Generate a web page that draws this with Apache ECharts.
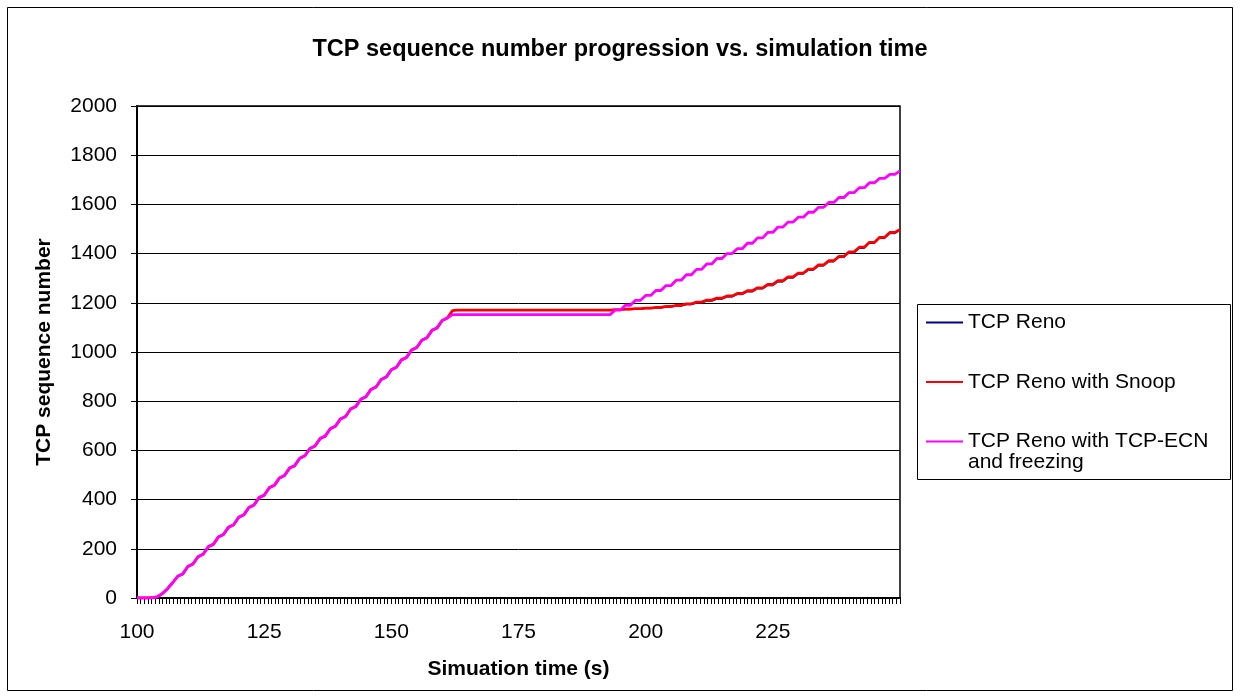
<!DOCTYPE html>
<html>
<head>
<meta charset="utf-8">
<script src="https://cdn.jsdelivr.net/npm/echarts@6/dist/echarts.min.js"></script>
<style>
html,body{margin:0;padding:0;background:#fff;}
#chart{width:1240px;height:698px;}
</style>
</head>
<body>
<div id="chart"></div>
<script>
// ---- data ----
const chartTitle = 'TCP sequence number progression vs. simulation time';
const xAxisTitle = 'Simuation time (s)';
const yAxisTitle = 'TCP sequence number';
const seriesNames = ['TCP Reno', 'TCP Reno with Snoop', 'TCP Reno with TCP-ECN and freezing'];
const legendLines = ['TCP Reno', 'TCP Reno with Snoop', 'TCP Reno with TCP-ECN', 'and freezing'];

// simulation time (s), one sample per second
const times = [
  100,101,102,103,104,105,106,107,108,109,110,111,112,113,114,115,116,117,118,119,
  120,121,122,123,124,125,126,127,128,129,130,131,132,133,134,135,136,137,138,139,
  140,141,142,143,144,145,146,147,148,149,150,151,152,153,154,155,156,157,158,159,
  160,161,162,163,164,165,166,167,168,169,170,171,172,173,174,175,176,177,178,179,
  180,181,182,183,184,185,186,187,188,189,190,191,192,193,194,195,196,197,198,199,
  200,201,202,203,204,205,206,207,208,209,210,211,212,213,214,215,216,217,218,219,
  220,221,222,223,224,225,226,227,228,229,230,231,232,233,234,235,236,237,238,239,
  240,241,242,243,244,245,246,247,248,249,250];

// common slow-start / linear phase, t = 100 .. 161 (all three runs overlap)
const riseValues = [
  0,0,0,1,5,18,38,62,88,98,128,138,168,178,208,218,248,258,288,298,
  328,338,368,378,408,418,448,458,488,498,528,538,568,578,608,618,648,658,688,698,
  728,738,768,778,808,818,848,858,888,898,928,938,968,978,1008,1018,1048,1058,1088,1098,
  1128,1138];

// t = 162 .. 250
const renoTail = [
  1168,1170,1170,1170,1170,1170,1170,1170,1170,1170,1170,1170,1170,1170,1170,1170,1170,1170,1170,1170,
  1170,1170,1170,1170,1170,1170,1170,1170,1170,1170,1170,1170,
  1171,1171,1172,1172,1174,1174,1176,1176,1178,1178,1182,1182,1186,1186,1192,1192,1198,1198,
  1206,1206,1214,1214,1223,1223,1233,1233,1244,1244,1256,1256,1269,1269,1284,1284,1300,1300,
  1316,1316,1332,1332,1349,1349,1366,1366,1384,1384,1402,1402,1421,1421,1441,1441,1461,1461,
  1481,1481,1495];

const snoopTail = [
  1168,1170,1170,1170,1170,1170,1170,1170,1170,1170,1170,1170,1170,1170,1170,1170,1170,1170,1170,1170,
  1170,1170,1170,1170,1170,1170,1170,1170,1170,1170,1170,1170,
  1172,1172,1174,1174,1176,1176,1178,1178,1181,1181,1185,1185,1190,1190,1196,1196,1203,1203,
  1211,1211,1219,1219,1228,1228,1238,1238,1249,1249,1261,1261,1275,1275,1290,1290,1305,1305,
  1321,1321,1337,1337,1354,1354,1371,1371,1389,1389,1407,1407,1426,1426,1446,1446,1466,1466,
  1486,1486,1498];

const ecnTail = [
  1152,1152,1152,1152,1152,1152,1152,1152,1152,1152,1152,1152,1152,1152,1152,1152,1152,1152,1152,1152,
  1152,1152,1152,1152,1152,1152,1152,1152,1152,1152,1152,1152,
  1170,1170,1190,1190,1210,1210,1230,1230,1250,1250,1270,1270,1292,1292,1314,1314,1336,1336,
  1358,1358,1380,1380,1400,1400,1420,1420,1442,1442,1464,1464,1486,1486,1508,1508,1528,1528,
  1548,1548,1568,1568,1588,1588,1608,1608,1628,1628,1648,1648,1668,1668,1688,1688,1706,1706,
  1722,1722,1736];

const renoValues = riseValues.concat(renoTail);
const snoopValues = riseValues.concat(snoopTail);
const ecnValues = riseValues.concat(ecnTail);

const seriesColors = ['#000080', '#FF0000', '#FF00FF'];
const seriesWidths = [1, 2.8, 2.8];

// ---- chart ----
const FONT = "'Liberation Sans', Arial, sans-serif";
const pairs = vals => times.map((t, i) => [t, vals[i]]);
const allValues = [renoValues, snoopValues, ecnValues];

const chart = echarts.init(document.getElementById('chart'), null, {renderer: 'canvas'});
chart.setOption({
  animation: false,
  backgroundColor: '#fff',
  title: {
    text: chartTitle,
    left: 'center',
    top: 33,
    textStyle: {fontFamily: FONT, fontSize: 23.5, fontWeight: 'bold', color: '#000', lineHeight: 24}
  },
  grid: {
    left: 137, right: 340, top: 106, bottom: 100,
    show: true, borderColor: '#000', borderWidth: 1.5, backgroundColor: '#fff'
  },
  xAxis: {
    type: 'value',
    min: 100, max: 250, interval: 25,
    name: xAxisTitle,
    nameLocation: 'middle',
    nameGap: 61,
    nameTextStyle: {fontFamily: FONT, fontSize: 21, fontWeight: 'bold', color: '#000', lineHeight: 21},
    axisLine: {show: true, onZero: false, lineStyle: {color: '#000', width: 2}},
    axisTick: {show: true, length: 6, lineStyle: {color: '#000', width: 1}},
    minorTick: {show: true, splitNumber: 35, length: 6, lineStyle: {color: '#000', width: 1}},
    axisLabel: {fontFamily: FONT, fontSize: 21, color: '#000', margin: 24, showMaxLabel: false, lineHeight: 21,
      formatter: v => String(v)},
    splitLine: {show: false}
  },
  yAxis: {
    type: 'value',
    min: 0, max: 2000, interval: 200,
    name: yAxisTitle,
    nameLocation: 'middle',
    nameGap: 82,
    nameRotate: 90,
    nameTextStyle: {fontFamily: FONT, fontSize: 21, fontWeight: 'bold', color: '#000', lineHeight: 21},
    axisLine: {show: true, lineStyle: {color: '#000', width: 2}},
    axisTick: {show: true, length: 6, lineStyle: {color: '#000', width: 1}},
    axisLabel: {fontFamily: FONT, fontSize: 21, color: '#000', margin: 20, formatter: v => String(v)},
    splitLine: {show: true, lineStyle: {color: '#000', width: 1}}
  },
  legend: {
    orient: 'vertical',
    left: 926, top: 312,
    padding: 0,
    itemGap: 38.5,
    itemWidth: 37,
    itemHeight: 2,
    icon: 'rect',
    data: seriesNames,
    formatter: n => n === seriesNames[2] ? legendLines[2] : n,
    textStyle: {fontFamily: FONT, fontSize: 21, color: '#000', lineHeight: 21}
  },
  graphic: [
    {type: 'rect', z: -10, silent: true, shape: {x: 7.5, y: 7.5, width: 1225, height: 683},
     style: {fill: 'none', stroke: '#000', lineWidth: 1}},
    {type: 'rect', z: -5, silent: true, shape: {x: 917.5, y: 304.5, width: 313, height: 175},
     style: {fill: '#fff', stroke: '#000', lineWidth: 1}},
    {type: 'text', silent: true, x: 968, y: 462,
     style: {text: legendLines[3], font: "21px 'Liberation Sans', Arial, sans-serif", fill: '#000', verticalAlign: 'middle', align: 'left'}}
  ],
  series: seriesNames.map((name, i) => ({
    name: name,
    type: 'line',
    showSymbol: false,
    symbol: 'none',
    data: pairs(allValues[i]),
    lineStyle: {color: seriesColors[i], width: seriesWidths[i]},
    itemStyle: {color: seriesColors[i]},
    z: 3 + i
  }))
});
</script>
</body>
</html>
